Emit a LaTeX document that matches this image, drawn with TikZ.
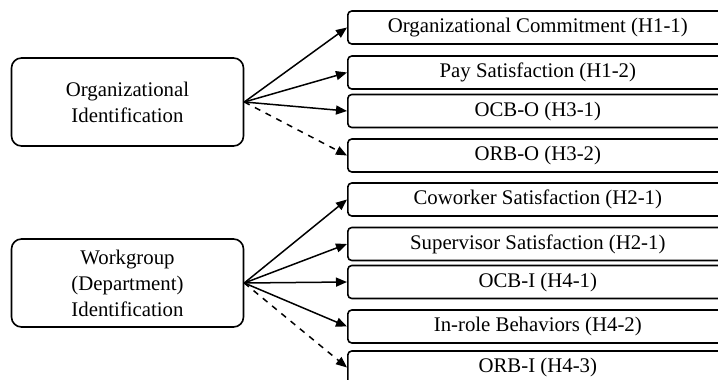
\documentclass[tikz,border=0pt]{standalone}
\usepackage{fontspec}
\setmainfont{Liberation Serif}
\usetikzlibrary{arrows.meta}

\tikzset{
  source/.style={draw, rounded corners=5pt, line width=0.8pt, align=center,
    minimum width=116pt, minimum height=44pt, inner sep=0pt,
    font=\fontsize{10.4}{13}\selectfont},
  target/.style={draw, rounded corners=2pt, line width=0.8pt, anchor=west,
    minimum width=190pt, minimum height=16.5pt, inner sep=0pt,
    font=\fontsize{10.4}{13}\selectfont},
  path/.style={line width=0.75pt, -{Triangle[length=5.5pt,width=4.5pt]}},
  weak/.style={path, dashed}
}

\begin{document}
\begin{tikzpicture}[x=0.5pt, y=-0.5pt]
    \useasboundingbox (0,0) rectangle (718,380);

    \node [source] (org) at (127.5,102) {Organizational\\Identification};
    \node [source] (wg) at (127.5,283) {Workgroup\\(Department)\\Identification};

    \node [target] (oc) at (347,27.5) {Organizational Commitment (H1-1)};
    \node [target] (ps) at (347,72.5) {Pay Satisfaction (H1-2)};
    \node [target] (ocbo) at (347,111) {OCB-O (H3-1)};
    \node [target] (orbo) at (347,155.5) {ORB-O (H3-2)};
    \node [target] (cs) at (347,199.5) {Coworker Satisfaction (H2-1)};
    \node [target] (ss) at (347,244) {Supervisor Satisfaction (H2-1)};
    \node [target] (ocbi) at (347,282) {OCB-I (H4-1)};
    \node [target] (irb) at (347,326.5) {In-role Behaviors (H4-2)};
    \node [target] (orbi) at (347,367.5) {ORB-I (H4-3)};

    \draw [path] (org.east) -- (oc.west);
    \draw [path] (org.east) -- (ps.west);
    \draw [path] (org.east) -- (ocbo.west);
    \draw [weak] (org.east) -- (orbo.west);

    \draw [path] (wg.east) -- (cs.west);
    \draw [path] (wg.east) -- (ss.west);
    \draw [path] (wg.east) -- (ocbi.west);
    \draw [path] (wg.east) -- (irb.west);
    \draw [weak] (wg.east) -- (orbi.west);
\end{tikzpicture}
\end{document}
